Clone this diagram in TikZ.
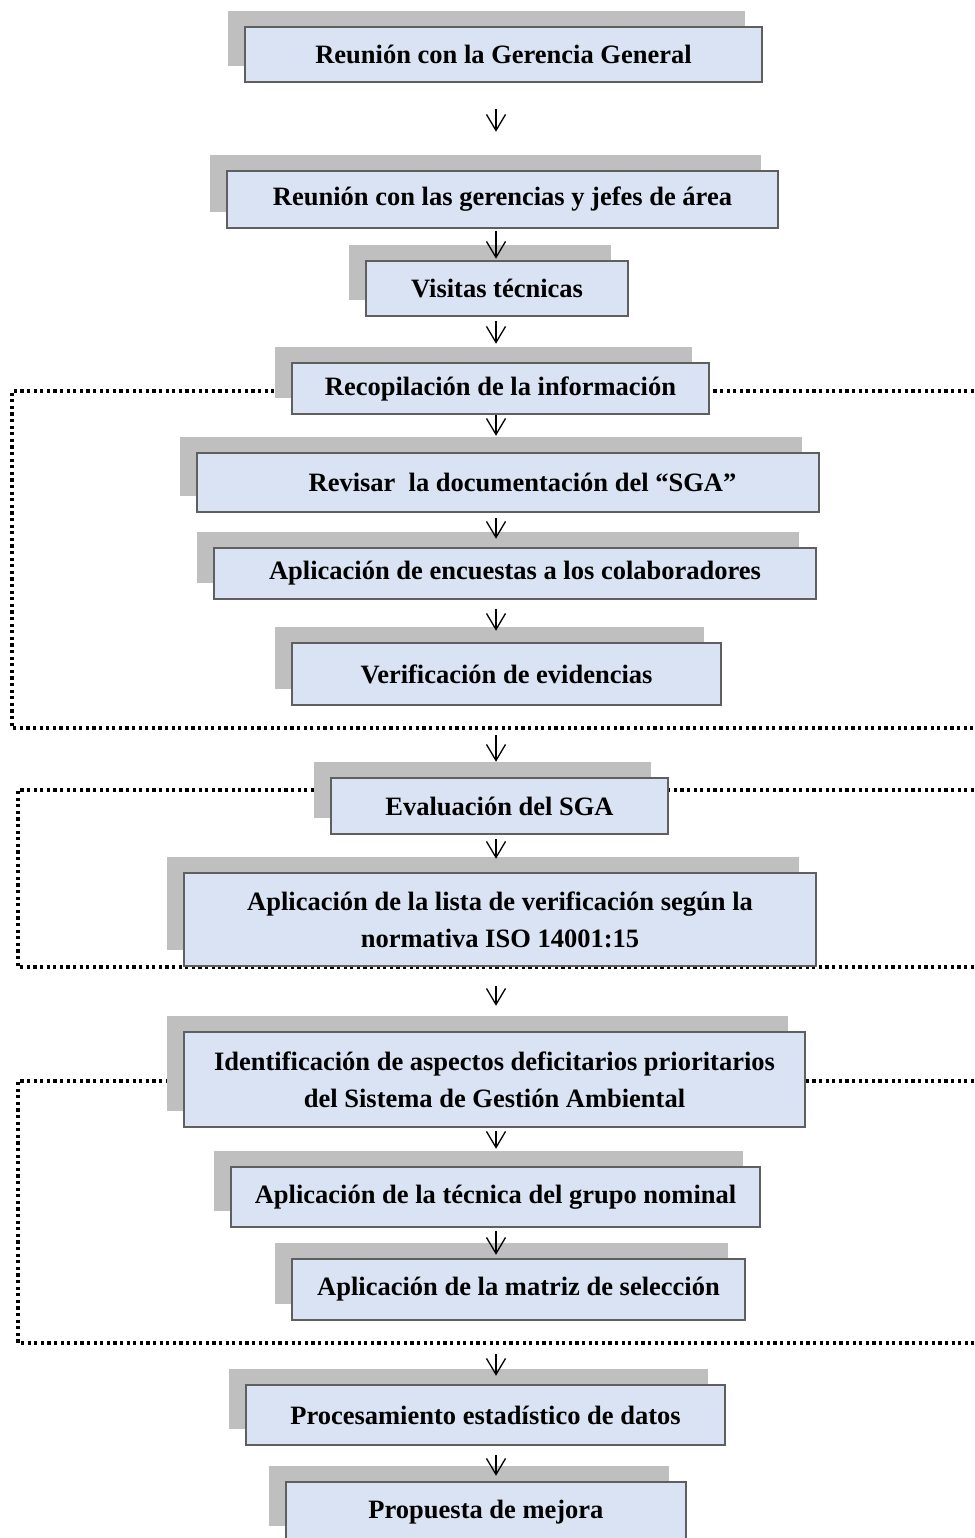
\documentclass[tikz,border=0pt]{standalone}
\usepackage{fontspec}
\setmainfont{Liberation Serif}
\usepackage{xcolor}
\usepackage{tikz}
\usetikzlibrary{arrows.meta, shadows, backgrounds, positioning}

\definecolor{boxfill}{HTML}{DAE3F3}
\definecolor{boxline}{HTML}{5F5F5F}
\definecolor{shade}{HTML}{BFBFBF}

\begin{document}
\begin{tikzpicture}  [
        x = 1pt, y = -1pt,
        box/.style = {rectangle, draw=boxline, line width=2.5pt, fill=boxfill,
            inner sep=0pt, align=center,
            font=\fontsize{26.5}{37}\selectfont\bfseries,
            general shadow={fill=shade, shadow xshift=-17pt, shadow yshift=16pt}},
        arr/.style = {line width=1.3pt, -{Straight Barb[length=16pt, width=19pt, line width=1.3pt]}},
        frame/.style = {line width=3.2pt, dash pattern=on 3.2pt off 3.4pt}
    ]
    \useasboundingbox (0,0) rectangle (974,1538);
    \coordinate (mid) at (496,0);

    \node[box, minimum width=517, minimum height=55] (1)  at (503.5,54.5)  {Reunión con la Gerencia General};
    \node[box, minimum width=551, minimum height=57] (2)  at (502.5,199.5) {Reunión con las gerencias y jefes de área};
    \node[box, minimum width=262, minimum height=55] (3)  at (497,288.5)   {Visitas técnicas};
    \node[box, minimum width=417, minimum height=51] (4)  at (500.5,388.5) {Recopilación de la información};
    \node[box, minimum width=622, minimum height=59] (5)  at (508,482.5)   {\hspace*{29pt}Revisar\ \ la documentación del “SGA”};
    \node[box, minimum width=602, minimum height=51] (6)  at (515,573.5)   {Aplicación de encuestas a los colaboradores};
    \node[box, minimum width=429, minimum height=62] (7)  at (506.5,674)   {Verificación de evidencias};
    \node[box, minimum width=337, minimum height=56] (8)  at (499.5,806)   {Evaluación del SGA};
    \node[box, minimum width=632, minimum height=93] (9)  at (500,919.5)   {Aplicación de la lista de verificación según la\\ normativa ISO 14001:15};
    \node[box, minimum width=621, minimum height=95] (10) at (494.5,1079.5) {Identificación de aspectos deficitarios prioritarios\\ del Sistema de Gestión Ambiental};
    \node[box, minimum width=529, minimum height=60] (11) at (495.5,1197)  {Aplicación de la técnica del grupo nominal};
    \node[box, minimum width=453, minimum height=61] (12) at (518.5,1289.5) {Aplicación de la matriz de selección};
    \node[box, minimum width=479, minimum height=60] (13) at (485.5,1415)  {Procesamiento estadístico de datos};
    \node[box, minimum width=400, minimum height=60] (14) at (486,1512)    {Propuesta de mejora};

    \draw[arr, shorten <=26pt, shorten >=38pt] (1.south -| mid)  -- (2.north -| mid);
    \draw[arr, shorten <=2pt,  shorten >=1pt]  (2.south -| mid)  -- (3.north -| mid);
    \draw[arr, shorten <=4pt,  shorten >=18pt] (3.south -| mid)  -- (4.north -| mid);
    \draw[arr, shorten >=16pt]                 (4.south -| mid)  -- (5.north -| mid);
    \draw[arr, shorten <=5pt,  shorten >=8pt]  (5.south -| mid)  -- (6.north -| mid);
    \draw[arr, shorten <=9pt,  shorten >=11pt] (6.south -| mid)  -- (7.north -| mid);
    \draw[arr, shorten <=29pt, shorten >=15pt] (7.south -| mid)  -- (8.north -| mid);
    \draw[arr, shorten <=4pt,  shorten >=13pt] (8.south -| mid)  -- (9.north -| mid);
    \draw[arr, shorten <=19pt, shorten >=25pt] (9.south -| mid)  -- (10.north -| mid);
    \draw[arr, shorten <=3pt,  shorten >=17pt] (10.south -| mid) -- (11.north -| mid);
    \draw[arr, shorten <=3pt,  shorten >=3pt]  (11.south -| mid) -- (12.north -| mid);
    \draw[arr, shorten <=33pt, shorten >=8pt]  (12.south -| mid) -- (13.north -| mid);
    \draw[arr, shorten <=9pt,  shorten >=5pt]  (13.south -| mid) -- (14.north -| mid);

    % dotted groups, open to the right
    \begin{scope}[on background layer]
    \draw[frame] (974,391)  -| (12,728)  -- (974,728);
    \draw[frame] (974,790)  -| (18,967)  -- (974,967);
    \draw[frame] (974,1081) -| (18,1343) -- (974,1343);
    \end{scope}

\end{tikzpicture}
\end{document}
